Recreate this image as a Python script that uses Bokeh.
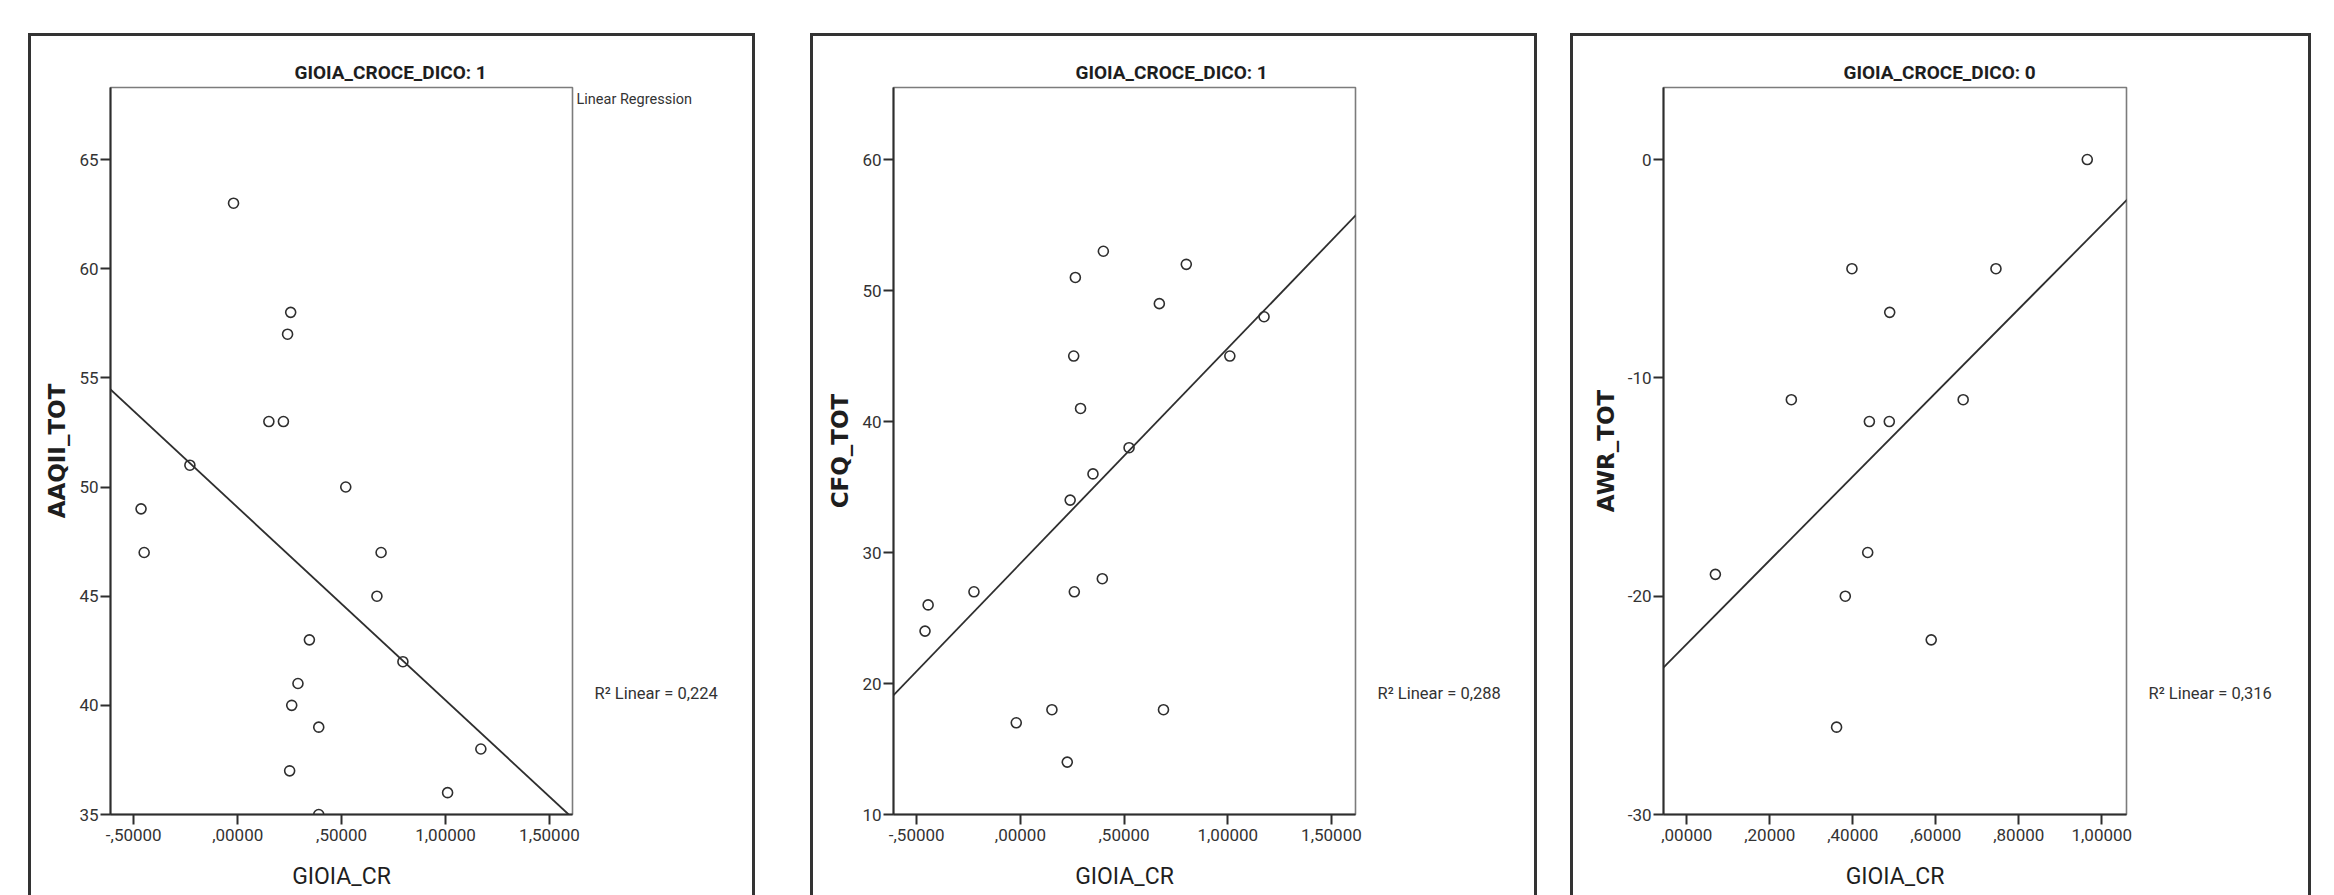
import numpy as np
from bokeh.plotting import figure
from bokeh.layouts import row
from bokeh.models import Label, Slope, Range1d, FixedTicker, Title, LinearAxis
from bokeh.embed import file_html
from bokeh.resources import INLINE

# ---------------- data ----------------
panel_titles = ["GIOIA_CROCE_DICO: 1", "GIOIA_CROCE_DICO: 1", "GIOIA_CROCE_DICO: 0"]
x_axis_label = "GIOIA_CR"
y_axis_labels = ["AAQII_TOT", "CFQ_TOT", "AWR_TOT"]
r2_texts = ["R² Linear = 0,224", "R² Linear = 0,288", "R² Linear = 0,316"]
fit_legend_text = "Linear Regression"

aaqii_x = [-0.02, 0.255, 0.24, 0.15, 0.22, -0.23, 0.52, -0.465, -0.45, 0.69,
           0.67, 0.345, 0.795, 0.29, 0.26, 0.39, 1.17, 0.25, 1.01, 0.39]
aaqii_y = [63, 58, 57, 53, 53, 51, 50, 49, 47, 47,
           45, 43, 42, 41, 40, 39, 38, 37, 36, 35]

cfq_x = [0.40, 0.80, 0.265, 0.67, 1.175, 0.257, 1.01, 0.29, 0.524, 0.35,
         0.24, 0.395, -0.224, 0.26, -0.445, -0.46, 0.152, 0.69, -0.02, 0.226]
cfq_y = [53, 52, 51, 49, 48, 45, 45, 41, 38, 36,
         34, 28, 27, 27, 26, 24, 18, 18, 17, 14]

awr_x = [0.965, 0.398, 0.745, 0.489, 0.252, 0.666, 0.44, 0.488, 0.436, 0.069,
         0.382, 0.589, 0.361]
awr_y = [0, -5, -5, -7, -11, -11, -12, -12, -18, -19, -20, -22, -26]

x_ticks_wide = [-0.5, 0.0, 0.5, 1.0, 1.5]
x_tick_labels_wide = ["-,50000", ",00000", ",50000", "1,00000", "1,50000"]
x_ticks_narrow = [0.0, 0.2, 0.4, 0.6, 0.8, 1.0]
x_tick_labels_narrow = [",00000", ",20000", ",40000", ",60000", ",80000", "1,00000"]
y_ticks_aaqii = [35, 40, 45, 50, 55, 60, 65]
y_tick_labels_aaqii = ["35", "40", "45", "50", "55", "60", "65"]
y_ticks_cfq = [10, 20, 30, 40, 50, 60]
y_tick_labels_cfq = ["10", "20", "30", "40", "50", "60"]
y_ticks_awr = [-30, -20, -10, 0]
y_tick_labels_awr = ["-30", "-20", "-10", "0"]

x_range_aaqii = (-0.612, 1.611)
y_range_aaqii = (35, 68.3)
x_range_cfq = (-0.612, 1.616)
y_range_cfq = (10, 65.5)
x_range_awr = (-0.056, 1.0595)
y_range_awr = (-30, 3.3)

# ---------------- styling / layout ----------------
H = 859            # canvas height (top at page y=36)
TOP = 51
BOTTOM = 81
DARK = "#2e2e2e"
R2_FRAC = 0.8336   # R² note: fraction of frame height measured from the top


def make_panel(xs, ys, title, ylab, r2, xticks, xlabels, yticks, ylabels,
               xr, yr, W, bl, br, margin, title_offset):
    p = figure(width=W, height=H, x_range=Range1d(*xr), y_range=Range1d(*yr),
               min_border_left=bl, min_border_right=br,
               min_border_top=TOP, min_border_bottom=BOTTOM, title=None,
               output_backend="svg", toolbar_location=None,
               background_fill_color="white", border_fill_color="white")
    p.margin = margin
    p.styles = {"outline": "3px solid #333333",
                "width": f"{W}px", "min-width": f"{W}px", "max-width": f"{W}px",
                "flex": "0 0 auto", "height": f"{H}px", "overflow": "visible"}
    p.grid.visible = False
    p.outline_line_color = "#7c7c7c"
    p.outline_line_width = 1.6

    for ax in (p.xaxis[0], p.yaxis[0]):
        ax.axis_line_color = DARK
        ax.axis_line_width = 2
        ax.major_tick_line_color = DARK
        ax.major_tick_line_width = 2
        ax.major_tick_out = 10
        ax.major_tick_in = 0
        ax.minor_tick_line_color = None
        ax.major_label_text_font = "Roboto"
        ax.major_label_text_font_size = "17px"
        ax.major_label_text_color = "#333333"

    xa = p.xaxis[0]
    xa.ticker = FixedTicker(ticks=xticks)
    xa.major_label_overrides = {float(t): s for t, s in zip(xticks, xlabels)}
    xa.major_label_standoff = 4
    xa.axis_label = x_axis_label
    xa.axis_label_text_font = "Roboto"
    xa.axis_label_text_font_size = "23px"
    xa.axis_label_text_font_style = "normal"
    xa.axis_label_text_color = "#1e1e1e"
    xa.axis_label_standoff = 19

    ya = p.yaxis[0]
    ya.ticker = FixedTicker(ticks=yticks)
    ya.major_label_overrides = {float(t): s for t, s in zip(yticks, ylabels)}
    ya.major_label_standoff = 2
    ya.axis_label = ylab
    ya.axis_label_text_font = "DejaVu Sans"
    ya.axis_label_text_font_size = "23px"
    ya.axis_label_text_font_style = "bold"
    ya.axis_label_text_color = "#1e1e1e"
    ya.axis_label_standoff = 6

    p.scatter(xs, ys, marker="circle", size=10, fill_color=None,
              line_color=DARK, line_width=1.6)

    m, b = np.polyfit(np.array(xs, dtype=float), np.array(ys, dtype=float), 1)
    p.add_layout(Slope(gradient=m, y_intercept=b, line_color=DARK, line_width=1.8))

    # R² note as a bare right-hand axis carrying one label
    y_r2 = yr[1] - R2_FRAC * (yr[1] - yr[0])
    r2_axis = LinearAxis(ticker=FixedTicker(ticks=[y_r2]),
                         major_label_overrides={y_r2: r2},
                         axis_line_color=None, major_tick_line_color=None,
                         minor_tick_line_color=None, major_tick_out=0, major_tick_in=0,
                         major_label_standoff=22, major_label_text_font="Roboto",
                         major_label_text_font_size="16.5px",
                         major_label_text_color="#333333")
    p.add_layout(r2_axis, "right")

    p.add_layout(Title(text=title, align="left", offset=title_offset, standoff=7,
                       text_font="Roboto", text_font_style="bold",
                       text_font_size="19px", text_color="#1e1e1e"), "above")
    return p


p1 = make_panel(aaqii_x, aaqii_y, panel_titles[0], y_axis_labels[0], r2_texts[0],
                x_ticks_wide, x_tick_labels_wide, y_ticks_aaqii, y_tick_labels_aaqii,
                x_range_aaqii, y_range_aaqii, W=721, bl=79, br=180,
                margin=(36, 0, 0, 31), title_offset=184)
p2 = make_panel(cfq_x, cfq_y, panel_titles[1], y_axis_labels[1], r2_texts[1],
                x_ticks_wide, x_tick_labels_wide, y_ticks_cfq, y_tick_labels_cfq,
                x_range_cfq, y_range_cfq, W=721, bl=80, br=179,
                margin=(36, 0, 0, 61), title_offset=182)
p3 = make_panel(awr_x, awr_y, panel_titles[2], y_axis_labels[2], r2_texts[2],
                x_ticks_narrow, x_tick_labels_narrow, y_ticks_awr, y_tick_labels_awr,
                x_range_awr, y_range_awr, W=735, bl=90, br=182,
                margin=(36, 0, 0, 39), title_offset=180)

# "Linear Regression" note at the top right of the first plot (side-panel label)
p1.add_layout(Label(x=79 + 462 + 4, y=99 - 36, x_units="canvas", y_units="canvas",
                    text=fit_legend_text, text_align="left", text_baseline="middle",
                    text_font="Roboto", text_font_size="14.5px",
                    text_color="#333333"), "above")

layout = row(p1, p2, p3, styles={"width": "2334px", "overflow": "visible"})
open("out.html", "w").write(file_html(layout, INLINE))
